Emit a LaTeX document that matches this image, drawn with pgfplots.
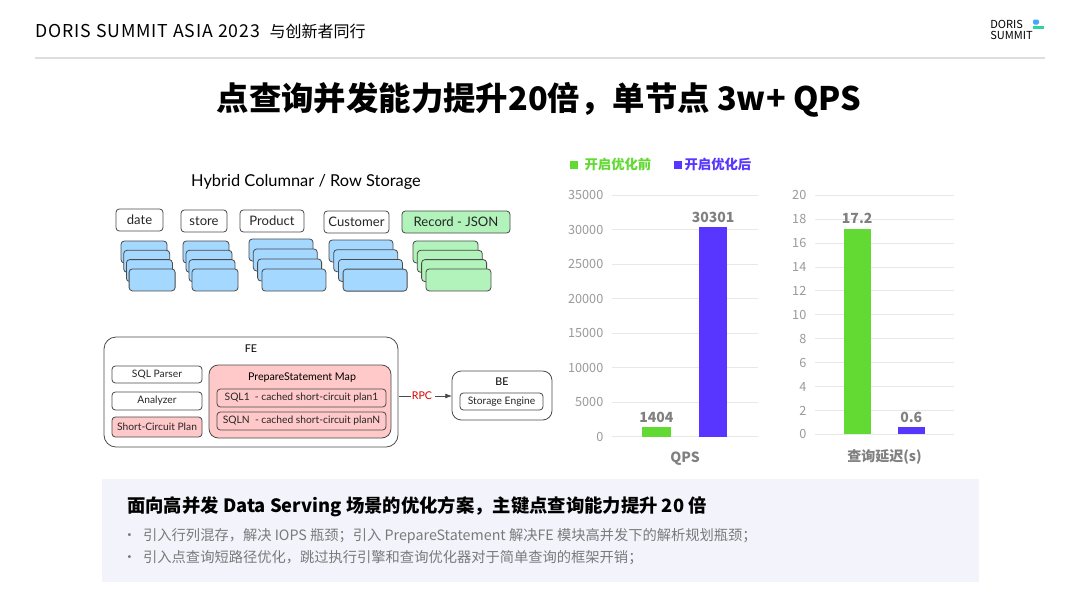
\documentclass[border=0pt]{standalone}
\usepackage{fontspec}
\usepackage{pgfplots}
\pgfplotsset{compat=1.18}
\usetikzlibrary{arrows.meta}
\setmainfont{Noto Sans CJK SC}
\newfontfamily\cjk{Noto Sans CJK SC}
\newfontfamily\cjkwide{Noto Sans CJK SC}[LetterSpace=5]
\newfontfamily\hand{Lato}
\definecolor{gbar}{HTML}{63D934}
\definecolor{pbar}{HTML}{5836FF}
\definecolor{gridc}{HTML}{E8E8E8}
\definecolor{tickc}{HTML}{9A9A9A}
\definecolor{valc}{HTML}{808080}
\definecolor{hline}{HTML}{DDDDDD}
\definecolor{boxbg}{HTML}{F3F3FC}
\definecolor{cblue}{HTML}{A5D8FF}
\definecolor{cgreen}{HTML}{B2F2BB}
\definecolor{cpink}{HTML}{FFC9C9}
\definecolor{bstroke}{HTML}{4A4A4A}
\definecolor{bultxt}{HTML}{7A7A7A}
\definecolor{logob}{HTML}{3FA9F5}
\definecolor{logog}{HTML}{2FD3A0}
\newcommand{\tbox}[6][white]{%
  \draw[bstroke,line width=0.6pt,rounded corners=2.5pt,fill=#1] (#2,#3) rectangle (#4,#5);
  \node[font=\hand\fontsize{7.7}{9}\selectfont,text=black!85] at ({(#2+#4)/2},{(#3+#5)/2}) {#6};}
\newcommand{\stack}[7]{% x0 y0 dx dy w h fill
  \foreach \i in {0,1,2,3}{%
    \draw[bstroke,line width=0.6pt,rounded corners=2.5pt,fill=#7] ({#1+\i*#3},{#2+\i*#4}) rectangle ++(#5,#6);}}
\begin{document}
\begin{tikzpicture}
\begin{scope}[x=0.75pt,y=-0.75pt]
\path[use as bounding box,fill=white] (0,0) rectangle (1080,608);
% header
\node[anchor=west,inner sep=0pt] at (35,31) {{\cjkwide\fontsize{13.3}{14}\selectfont DORIS SUMMIT ASIA 2023}\hspace{7pt}{\cjk\fontsize{12}{13}\selectfont 与创新者同行}};
\draw[hline,line width=0.8pt] (35,58) -- (1045,58);
\node[anchor=west,inner sep=0pt,align=left,font=\cjk\fontsize{8.3}{8.5}\selectfont] at (990,30) {DORIS\\SUMMIT};
\fill[logob,rounded corners=1pt] (1033,19.5) rectangle (1039,24.5);
\fill[logog] (1033,25.5) rectangle (1044,28.5);
% title
\node[font=\cjk\bfseries\fontsize{24.3}{27}\selectfont] at (539,100) {点查询并发能力提升20倍，单节点 3w+ QPS};
% diagram top
\node[font=\hand\fontsize{12.3}{14}\selectfont] at (306,182) {Hybrid Columnar / Row Storage};
\tbox{116}{209}{163}{231}{\fontsize{9.8}{10}\selectfont date}
\tbox{181}{210}{227}{232}{\fontsize{9.8}{10}\selectfont store}
\tbox{240}{210}{304}{232}{\fontsize{9.8}{10}\selectfont Product}
\tbox{324}{211}{389}{233}{\fontsize{9.8}{10}\selectfont Customer}
\tbox[cgreen]{402}{211}{510}{233}{\fontsize{9.8}{10}\selectfont Record - JSON}
\stack{121}{241}{2.7}{9.3}{46}{22}{cblue}
\stack{183}{241}{3}{9.3}{46}{22}{cblue}
\stack{249}{239}{4.3}{10}{64}{22}{cblue}
\stack{329}{240}{4.7}{9.7}{64}{22}{cblue}
\stack{413}{241}{4.3}{9.3}{65}{22}{cgreen}
% FE / BE
\draw[bstroke,line width=0.6pt,rounded corners=9pt] (104,337) rectangle (398,447);
\node[font=\hand\fontsize{8}{9}\selectfont] at (251,349) {FE};
\tbox{112}{366}{202}{383}{SQL Parser}
\tbox{112}{392}{202}{410}{Analyzer}
\tbox[cpink]{112}{417}{202}{437}{Short-Circuit Plan}
\draw[bstroke,line width=0.6pt,rounded corners=7pt,fill=cpink] (209,365) rectangle (391,438);
\node[font=\hand\fontsize{8}{9}\selectfont] at (302,378) {PrepareStatement Map};
\tbox[cpink]{217}{389}{386}{407}{SQL1\ \ - cached short-circuit plan1}
\tbox[cpink]{217}{412}{386}{430}{SQLN\ \ - cached short-circuit planN}
\draw[bstroke,line width=0.6pt] (399,396) -- (411,396);
\node[font=\hand\fontsize{8}{9}\selectfont,text=red!85!black] at (422,396) {RPC};
\draw[bstroke,line width=0.6pt,-{Latex[length=5pt]}] (435,396) -- (452,396);
\draw[bstroke,line width=0.6pt,rounded corners=7pt] (452,371) rectangle (552,420);
\node[font=\hand\fontsize{8}{9}\selectfont] at (502,382) {BE};
\tbox{460}{393}{543}{410}{Storage Engine}
% bottom box
\fill[boxbg] (102,479) rectangle (979,582);
\node[anchor=west,inner sep=0pt,font=\cjk\bfseries\fontsize{13.75}{15}\selectfont] at (127,507) {面向高并发 Data Serving 场景的优化方案，主键点查询能力提升 20 倍};
\node[anchor=west,inner sep=0pt,font=\cjk\fontsize{10.7}{12}\selectfont,text=bultxt] at (122,536) {•\hspace{5pt}引入行列混存，解决 IOPS 瓶颈；引入 PrepareStatement 解决FE 模块高并发下的解析规划瓶颈；};
\node[anchor=west,inner sep=0pt,font=\cjk\fontsize{10.7}{12}\selectfont,text=bultxt] at (122,558) {•\hspace{5pt}引入点查询短路径优化，跳过执行引擎和查询优化器对于简单查询的框架开销；};
\coordinate (c1) at (612,436.7);
\coordinate (c2) at (815,434.3);
\end{scope}
\pgfplotsset{
  slide/.style={
    scale only axis, anchor=south west,
    ybar, bar shift=0pt, bar width=0.5,
    xmin=-0.78, xmax=1.79, ymin=0,
    axis line style={draw=none}, xtick=\empty, major tick length=0pt,
    ymajorgrids, grid style={gridc,line width=0.7pt},
    scaled y ticks=false,
    /pgf/number format/1000 sep={},
    /pgf/number format/assume math mode=true,
    yticklabel style={font=\cjk\fontsize{9.5}{11}\selectfont,text=tickc,xshift=-3pt},
    nodes near coords={\pgfmathprintnumber[fixed,precision=1,1000 sep={}]{\pgfplotspointmeta}},
    nodes near coords style={font=\cjk\bfseries\fontsize{10.5}{12}\selectfont,text=valc},
    xlabel style={font=\cjk\bfseries\fontsize{10.5}{12}\selectfont,text=valc,at={(axis description cs:0.5,0)},anchor=north,yshift=-8pt},
    clip=false,
  }
}
\begin{axis}[slide, at={(c1)}, width=109.5pt, height=181.3pt, ymax=35000,
  ytick={0,5000,...,35000}, xlabel={QPS},
  legend style={at={(axis description cs:0.342,1.124)},anchor=center,draw=none,fill=none,
    legend columns=2,font=\cjk\bfseries\fontsize{10}{12}\selectfont,
    /tikz/every even column/.append style={column sep=15pt}},
  legend image code/.code={\draw[#1,draw=none] (0pt,-3pt) rectangle (6pt,3pt);}]
\addplot[fill=gbar,draw=none] coordinates {(0,1404)};
\addplot[fill=pbar,draw=none] coordinates {(1,30301)};
\addlegendentry{\hspace{3pt}\textcolor{gbar}{开启优化前}}
\addlegendentry{\textcolor{pbar}{开启优化后}}
\end{axis}
\begin{axis}[slide, at={(c2)}, width=104.25pt, height=179.25pt, ymax=20,
  ytick={0,2,...,20}, xlabel={查询延迟(s)}]
\addplot[fill=gbar,draw=none] coordinates {(0,17.2)};
\addplot[fill=pbar,draw=none] coordinates {(1,0.6)};
\end{axis}
\end{tikzpicture}
\end{document}
